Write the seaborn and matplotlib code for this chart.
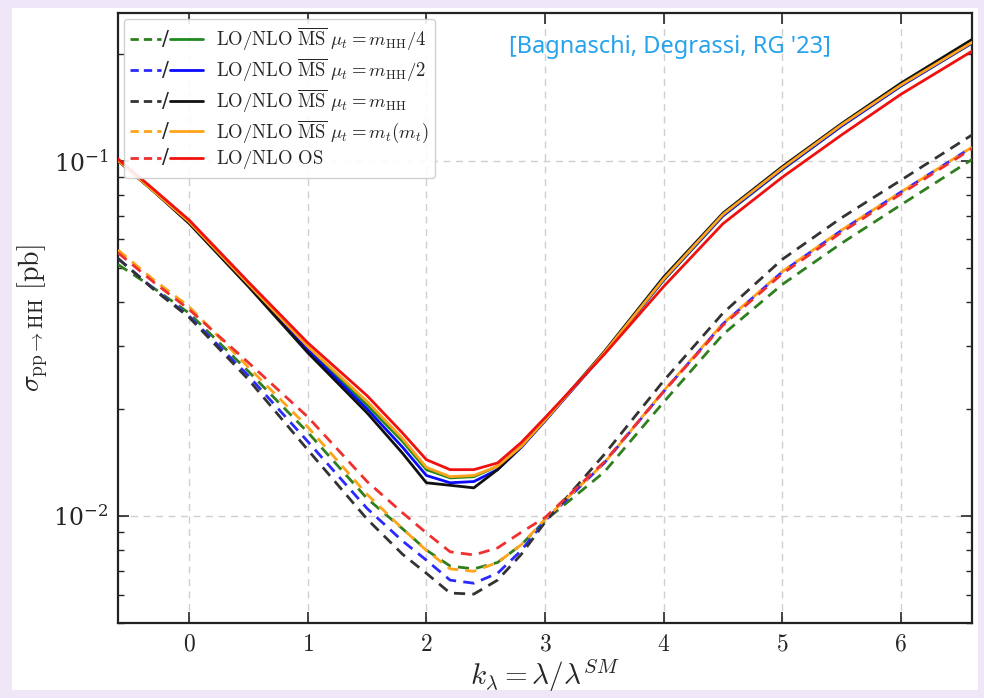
import numpy as np
import pandas as pd
import matplotlib
matplotlib.use("Agg")
import matplotlib.pyplot as plt
import seaborn as sns
from matplotlib.legend_handler import HandlerBase
from matplotlib.lines import Line2D
from matplotlib.text import Text
from matplotlib.ticker import FuncFormatter, LogLocator
from matplotlib.patches import Rectangle

# ---------------- data ----------------
k_lambda = [-0.6, -0.3, 0.0, 0.5, 1.0, 1.5, 1.8, 2.0, 2.2, 2.4, 2.6, 2.8, 3.0,
            3.5, 4.0, 4.5, 5.0, 5.5, 6.0, 6.6]

scheme_labels = [
    r"$\mathrm{LO/NLO}\ \overline{\mathrm{MS}}\ \mu_t = m_{\mathrm{HH}}/4$",
    r"$\mathrm{LO/NLO}\ \overline{\mathrm{MS}}\ \mu_t = m_{\mathrm{HH}}/2$",
    r"$\mathrm{LO/NLO}\ \overline{\mathrm{MS}}\ \mu_t = m_{\mathrm{HH}}$",
    r"$\mathrm{LO/NLO}\ \overline{\mathrm{MS}}\ \mu_t = m_t(m_t)$",
    r"$\mathrm{LO/NLO\ OS}$",
]

# NLO (solid)
nlo_mhh4 = [0.100, 0.082, 0.0670, 0.0447, 0.0297, 0.0205, 0.0162, 0.0135, 0.0128, 0.0129,
            0.0138, 0.0157, 0.0186, 0.0287, 0.0460, 0.0698, 0.0942, 0.125, 0.162, 0.214]
nlo_mhh2 = [0.100, 0.082, 0.0668, 0.0445, 0.0293, 0.0200, 0.0156, 0.0130, 0.0124, 0.0125,
            0.0135, 0.0156, 0.0185, 0.0287, 0.0462, 0.0700, 0.0945, 0.125, 0.162, 0.214]
nlo_mhh = [0.100, 0.082, 0.0665, 0.0442, 0.0288, 0.0195, 0.0150, 0.0124, 0.0122, 0.0120,
           0.0135, 0.0157, 0.0186, 0.0290, 0.0470, 0.0711, 0.0961, 0.127, 0.165, 0.219]
nlo_mtmt = [0.100, 0.082, 0.0672, 0.0449, 0.0300, 0.0210, 0.0165, 0.0137, 0.0129, 0.0130,
            0.0138, 0.0157, 0.0186, 0.0288, 0.0464, 0.0705, 0.0952, 0.126, 0.163, 0.215]
nlo_os = [0.101, 0.083, 0.0680, 0.0455, 0.0307, 0.0218, 0.0171, 0.0144, 0.0135, 0.0135,
          0.0141, 0.0161, 0.0189, 0.0285, 0.0442, 0.0664, 0.0897, 0.118, 0.1535, 0.203]

# LO (dashed)
lo_mhh4 = [0.051, 0.0438, 0.0372, 0.0255, 0.0172, 0.0112, 0.0092, 0.00802, 0.00723, 0.0071,
           0.0074, 0.0083, 0.0097, 0.0133, 0.0209, 0.0324, 0.0448, 0.0585, 0.0750, 0.1007]
lo_mhh2 = [0.053, 0.0436, 0.0365, 0.0248, 0.0162, 0.0105, 0.0085, 0.00751, 0.0066, 0.00647,
           0.0069, 0.0080, 0.0097, 0.0141, 0.0224, 0.0347, 0.0486, 0.0636, 0.0815, 0.109]
lo_mhh = [0.053, 0.0434, 0.0362, 0.0242, 0.01535, 0.0098, 0.0078, 0.0069, 0.00607, 0.00603,
          0.0066, 0.0078, 0.0096, 0.0149, 0.0240, 0.0372, 0.0527, 0.0690, 0.0880, 0.118]
lo_mtmt = [0.056, 0.0462, 0.0388, 0.0262, 0.0178, 0.0115, 0.0092, 0.0080, 0.0071, 0.00699,
           0.0074, 0.0083, 0.0098, 0.0141, 0.0225, 0.0348, 0.0487, 0.0637, 0.0815, 0.109]
lo_os = [0.055, 0.0455, 0.0381, 0.0270, 0.0190, 0.0125, 0.0102, 0.00896, 0.00793, 0.00777,
         0.00813, 0.0090, 0.0099, 0.0142, 0.0224, 0.0344, 0.0480, 0.0628, 0.0805, 0.108]

colors = ["#1f8a1f", "#0a0aff", "#111111", "#ffa31a", "#f01010"]
lo_colors = ["#2f7f1f", "#2a2aff", "#333333", "#ffa31a", "#f03030"]
nlo_series = [nlo_mhh4, nlo_mhh2, nlo_mhh, nlo_mtmt, nlo_os]
lo_series = [lo_mhh4, lo_mhh2, lo_mhh, lo_mtmt, lo_os]

# ---------------- style ----------------
sns.set_theme(style="ticks")
plt.rcParams["font.family"] = ["DejaVu Serif"]
plt.rcParams["mathtext.fontset"] = "cm"

fig = plt.figure(figsize=(9.84, 6.98), dpi=100)
fig.patch.set_facecolor("#efe6f7")
bg = Rectangle((12 / 984, 1 - 690 / 698), (978 - 12) / 984, (690 - 8) / 698,
               transform=fig.transFigure, facecolor="white", edgecolor="none", zorder=-10)
fig.add_artist(bg)
ax = fig.add_axes([118 / 984, 1 - 623 / 698, (972 - 118) / 984, (623 - 13) / 698])
ax.set_zorder(1)
ax.set_facecolor("white")

for ys, c in zip(lo_series, lo_colors):
    sns.lineplot(x=k_lambda, y=ys, ax=ax, color=c, linestyle=(0, (4, 2.6)), linewidth=2.0,
                 legend=False, zorder=3)
for ys, c in zip(nlo_series, colors):
    sns.lineplot(x=k_lambda, y=ys, ax=ax, color=c, linestyle="-", linewidth=2.0,
                 legend=False, zorder=4)

ax.set_yscale("log")
ax.set_xlim(-0.6, 6.6)
ax.set_ylim(0.005, 0.26)
ax.set_xticks(range(0, 7))
ax.xaxis.set_major_formatter(FuncFormatter(lambda v, p: f"${v:g}$"))
ax.yaxis.set_major_locator(LogLocator(base=10, numticks=10))
ax.yaxis.set_minor_locator(LogLocator(base=10, subs=np.arange(2, 10), numticks=10))
ax.tick_params(axis="both", which="major", direction="in", length=8, width=1.2,
               top=True, right=True, labelsize=17, pad=7)
ax.tick_params(axis="y", which="minor", direction="in", length=4, width=1.0,
               left=True, right=True, labelleft=False)
ax.grid(True, which="major", linestyle=(0, (5, 4)), color="#cfcfcf", linewidth=1.0)
for s in ax.spines.values():
    s.set_linewidth(1.6)
    s.set_color("#222222")

ax.set_xlabel(r"$k_\lambda = \lambda/\lambda^{SM}$", fontsize=21, labelpad=1)
ax.set_ylabel(r"$\sigma_{\mathrm{pp}\to\mathrm{HH}}\ [\mathrm{pb}]$", fontsize=20, labelpad=2)

ax.text(0.646, 0.945, "[Bagnaschi, Degrassi, RG '23]", transform=ax.transAxes,
        color="#25a3ec", fontsize=17, family="Noto Sans", ha="center", va="center")


# ---------------- legend with dashed/solid handles ----------------
class DashSolid:
    def __init__(self, color, lo_color):
        self.color = color
        self.lo_color = lo_color


class DashSolidHandler(HandlerBase):
    def create_artists(self, legend, orig_handle, xdescent, ydescent, width, height,
                       fontsize, trans):
        y = height / 2 - ydescent
        x0 = -xdescent
        a = Line2D([x0, x0 + 0.42 * width], [y, y], color=orig_handle.lo_color,
                   linestyle=(0, (3.0, 1.8)), linewidth=2.0, transform=trans)
        t = Text(x0 + 0.48 * width, y, "/", ha="center", va="center",
                 fontsize=fontsize * 1.1, color="#222222", transform=trans)
        b = Line2D([x0 + 0.54 * width, x0 + width], [y, y], color=orig_handle.color,
                   linestyle="-", linewidth=2.0, transform=trans)
        return [a, t, b]


handles = [DashSolid(c, lc) for c, lc in zip(colors, lo_colors)]
leg = ax.legend(handles, scheme_labels, handler_map={DashSolid: DashSolidHandler()},
                loc="upper left", fontsize=13.5, handlelength=3.9, handletextpad=0.7,
                labelspacing=0.18, borderpad=0.35, borderaxespad=0.3, framealpha=0.9,
                edgecolor="#cccccc", fancybox=True)
leg.get_frame().set_linewidth(1.0)

fig.savefig("out.png", dpi=100, facecolor=fig.get_facecolor())
